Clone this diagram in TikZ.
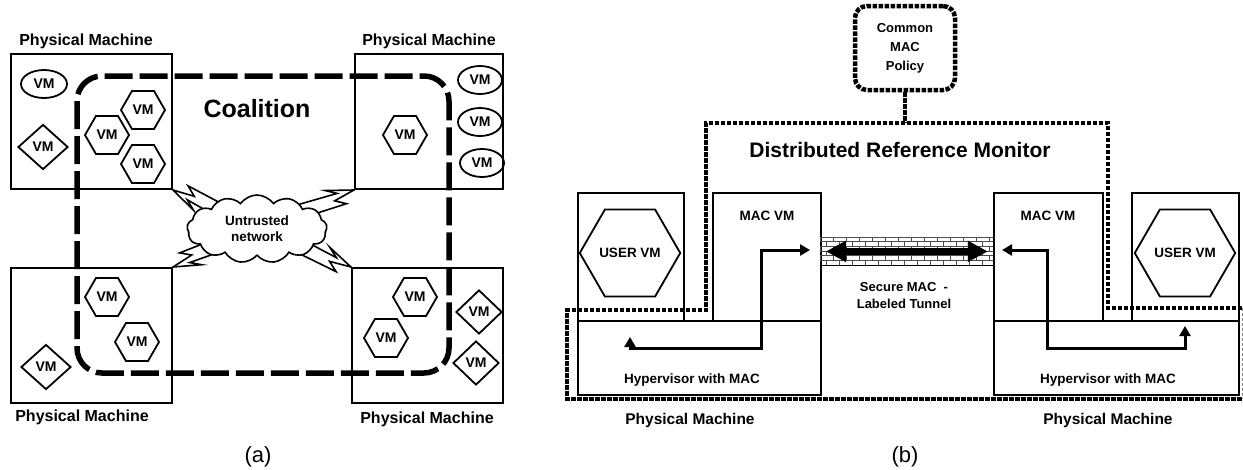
\documentclass[tikz,border=0pt]{standalone}
\usepackage{fontspec}
\setmainfont{Liberation Sans}
\usetikzlibrary{shapes.geometric,shapes.symbols,arrows.meta,calc}
\newcommand{\zapbolt}[2]{%
  \draw[bolt] (#1)
   -- ($(#1)!22pt!(#2)!3pt!90:(#2)$)
   -- ($(#1)!12pt!(#2)!10pt!90:(#2)$)
   -- ($(#1)!60pt!(#2)!7pt!90:(#2)$)
   -- ($(#1)!60pt!(#2)!7pt!-90:(#2)$)
   -- ($(#1)!17pt!(#2)!3pt!-90:(#2)$)
   -- ($(#1)!27pt!(#2)!10pt!-90:(#2)$)
   -- cycle;}
\begin{document}
\begin{tikzpicture}[x=1pt,y=-1pt,
  box/.style={draw,line width=2pt,inner sep=0,anchor=north west},
  pmlbl/.style={font=\fontsize{16}{18}\selectfont\bfseries,anchor=base,inner sep=0},
  vmtxt/.style={font=\fontsize{14}{15}\selectfont\bfseries},
  hexvm/.style={draw,line width=1.8pt,regular polygon,regular polygon sides=6,minimum size=44pt,inner sep=0,vmtxt},
  diavm/.style={draw,line width=1.8pt,diamond,minimum width=50pt,minimum height=45pt,inner sep=0,vmtxt},
  ellvm/.style={draw,line width=1.8pt,ellipse,minimum width=46pt,minimum height=28pt,inner sep=0,vmtxt},
  coal/.style={line width=5.5pt,dash pattern=on 28pt off 7pt,rounded corners=25pt},
  bolt/.style={draw,fill=white,line width=1.6pt,line join=miter},
  drm/.style={line width=4.5pt,dash pattern=on 4.5pt off 1.5pt},
  vmbox/.style={draw,line width=1.8pt,inner sep=0,anchor=north west},
  flow/.style={line width=3pt,{Triangle[length=10pt,width=11pt]}-{Triangle[length=10pt,width=11pt]}},
  lbl/.style={font=\fontsize{13.5}{16}\selectfont\bfseries,inner sep=0},
  brick/.style={line width=0.5pt,draw=black!70}
]
\useasboundingbox (0,0) rectangle (1243,469);

% ---------------- (a) ----------------
\node[box,minimum width=161pt,minimum height=135pt] (pm1) at (10,53) {};
\node[box,minimum width=148pt,minimum height=135pt] (pm2) at (354,53) {};
\node[box,minimum width=161pt,minimum height=135pt] (pm3) at (10,267) {};
\node[box,minimum width=151pt,minimum height=135pt] (pm4) at (351,267) {};
\node[pmlbl] (pm1l) at (86,45) {Physical Machine};
\node[pmlbl] (pm2l) at (429,45) {Physical Machine};
\node[pmlbl] (pm3l) at (82,421) {Physical Machine};
\node[pmlbl] (pm4l) at (427,423) {Physical Machine};

\draw[coal] (77,76) rectangle (449,373);
\node[font=\fontsize{25}{30}\selectfont\bfseries,anchor=base,inner sep=0] (coaltxt) at (257,117) {Coalition};

\node[ellvm] (v1) at (44,84) {VM};
\node[diavm] (v2) at (43,147) {VM};
\node[hexvm] (v3) at (143,110) {VM};
\node[hexvm] (v4) at (107,135) {VM};
\node[hexvm] (v5) at (143,164) {VM};
\node[hexvm] (v6) at (405,135) {VM};
\node[ellvm,minimum width=44pt] (v7) at (480,80) {VM};
\node[ellvm,minimum width=44pt] (v8) at (480,122) {VM};
\node[ellvm,minimum width=44pt] (v9) at (482,163) {VM};
\node[hexvm] (v10) at (107,297) {VM};
\node[hexvm] (v11) at (137,342) {VM};
\node[diavm] (v12) at (46,367) {VM};
\node[hexvm] (v13) at (415,297) {VM};
\node[hexvm] (v14) at (386,338) {VM};
\node[diavm,minimum width=46pt,minimum height=44pt] (v15) at (479,312) {VM};
\node[diavm,minimum width=46pt,minimum height=44pt] (v16) at (476,363) {VM};

\coordinate (netc) at (257,228);
\zapbolt{pm1.south east}{netc}
\zapbolt{pm2.south west}{netc}
\zapbolt{pm3.north east}{netc}
\zapbolt{pm4.north west}{netc}
\node[cloud,cloud puffs=13,cloud puff arc=110,cloud ignores aspect,draw,fill=white,line width=1.6pt,
      minimum width=140pt,minimum height=68pt,inner sep=0,align=center,
      font=\fontsize{13.5}{16}\selectfont\bfseries] (net) at (257,229) {Untrusted\\network};

\node[font=\fontsize{22}{24}\selectfont,anchor=base,inner sep=0] (capa) at (258,462) {(a)};

% ---------------- (b) ----------------
\node[drm,draw,rounded corners=12pt,minimum width=100pt,minimum height=84pt,inner sep=0,align=center,
      font=\fontsize{13}{19}\selectfont\bfseries] (policy) at (905,48) {Common\\MAC\\Policy};

\coordinate (d1) at (706,123);
\coordinate (d2) at (1108,123);
\coordinate (d3) at (1108,308);
\coordinate (d4) at (1242,308);
\coordinate (d5) at (1242,399);
\coordinate (d6) at (567,399);
\coordinate (d7) at (567,310);
\coordinate (d8) at (706,310);
\draw[drm] (policy.south) -- (policy.south |- d1);
\draw[drm] (d4) -- (d3) -- (d2) -- (d1) -- (d8) -- (d7) -- (d6) -- (d5);
\draw[line width=0.6pt,draw=black!50,dash pattern=on 3pt off 2pt] (d4) -- (d5);
\node[font=\fontsize{21}{25}\selectfont\bfseries,anchor=base,inner sep=0] (drmtxt) at (900,157) {Distributed Reference Monitor};

\node[vmbox,minimum width=106pt,minimum height=128pt] (uvmL) at (577,192) {};
\node[vmbox,minimum width=108pt,minimum height=128pt] (macL) at (712,192) {};
\node[vmbox,minimum width=243pt,minimum height=74pt] (hypL) at (577,320) {};
\node[vmbox,minimum width=109pt,minimum height=128pt] (macR) at (993,192) {};
\node[vmbox,minimum width=107pt,minimum height=128pt] (uvmR) at (1131,192) {};
\node[vmbox,minimum width=245pt,minimum height=74pt] (hypR) at (993,320) {};

\node[draw,line width=1.8pt,regular polygon,regular polygon sides=6,minimum size=96pt,inner sep=0,lbl] (uhexL) at (630,253) {USER VM};
\node[draw,line width=1.8pt,regular polygon,regular polygon sides=6,minimum size=96pt,inner sep=0,lbl] (uhexR) at (1185,253) {USER VM};

\node[lbl,anchor=base] (macLt) at (767,220) {MAC VM};
\node[lbl,anchor=base] (macRt) at (1048,220) {MAC VM};
\node[lbl,anchor=base] (hypLt) at (692,383) {Hypervisor with MAC};
\node[lbl,anchor=base] (hypRt) at (1108,383) {Hypervisor with MAC};
\node[pmlbl,font=\fontsize{15.5}{18}\selectfont\bfseries] (pmLt) at (690,424) {Physical Machine};
\node[pmlbl,font=\fontsize{15.5}{18}\selectfont\bfseries] (pmRt) at (1108,424) {Physical Machine};

% tunnel
\node[draw,line width=0.8pt,minimum width=173pt,minimum height=28pt,inner sep=0,anchor=north west] (tunnel) at (820,237) {};
\begin{scope}
  \clip (tunnel.north west) rectangle (tunnel.south east);
  \foreach \r in {0,...,5} {
    \draw[brick] (820,237+4.67*\r) -- (993,237+4.67*\r);
    \pgfmathsetmacro\off{mod(\r,2)*6.5}
    \foreach \c in {0,...,13} {
      \draw[brick] (820+\off+13*\c,237+4.67*\r) -- ++(0,4.67);
    }
  }
\end{scope}
\draw[line width=7pt,{Triangle[length=20pt,width=20pt]}-{Triangle[length=20pt,width=20pt]}]
  ($(tunnel.west)+(6,0)$) -- ($(tunnel.east)+(-6,0)$);
\node[align=center,inner sep=0,font=\fontsize{13}{17}\selectfont\bfseries] (tuntxt) at (904,296) {Secure MAC\ \ -\\Labeled Tunnel};

% flows
\coordinate (fl1) at (630,337);
\coordinate (fl2) at (630,348);
\coordinate (fl3) at (761,348);
\coordinate (fl4) at (761,250);
\coordinate (fl5) at (810,250);
\draw[flow] (fl1) -- (fl2) -- (fl3) -- (fl4) -- (fl5);
\coordinate (fr1) at (1002,250);
\coordinate (fr2) at (1047,250);
\coordinate (fr3) at (1047,348);
\coordinate (fr4) at (1185,348);
\coordinate (fr5) at (1185,326);
\draw[flow] (fr1) -- (fr2) -- (fr3) -- (fr4) -- (fr5);

\node[font=\fontsize{22}{24}\selectfont,anchor=base,inner sep=0] (capb) at (905,462) {(b)};
\end{tikzpicture}
\end{document}
